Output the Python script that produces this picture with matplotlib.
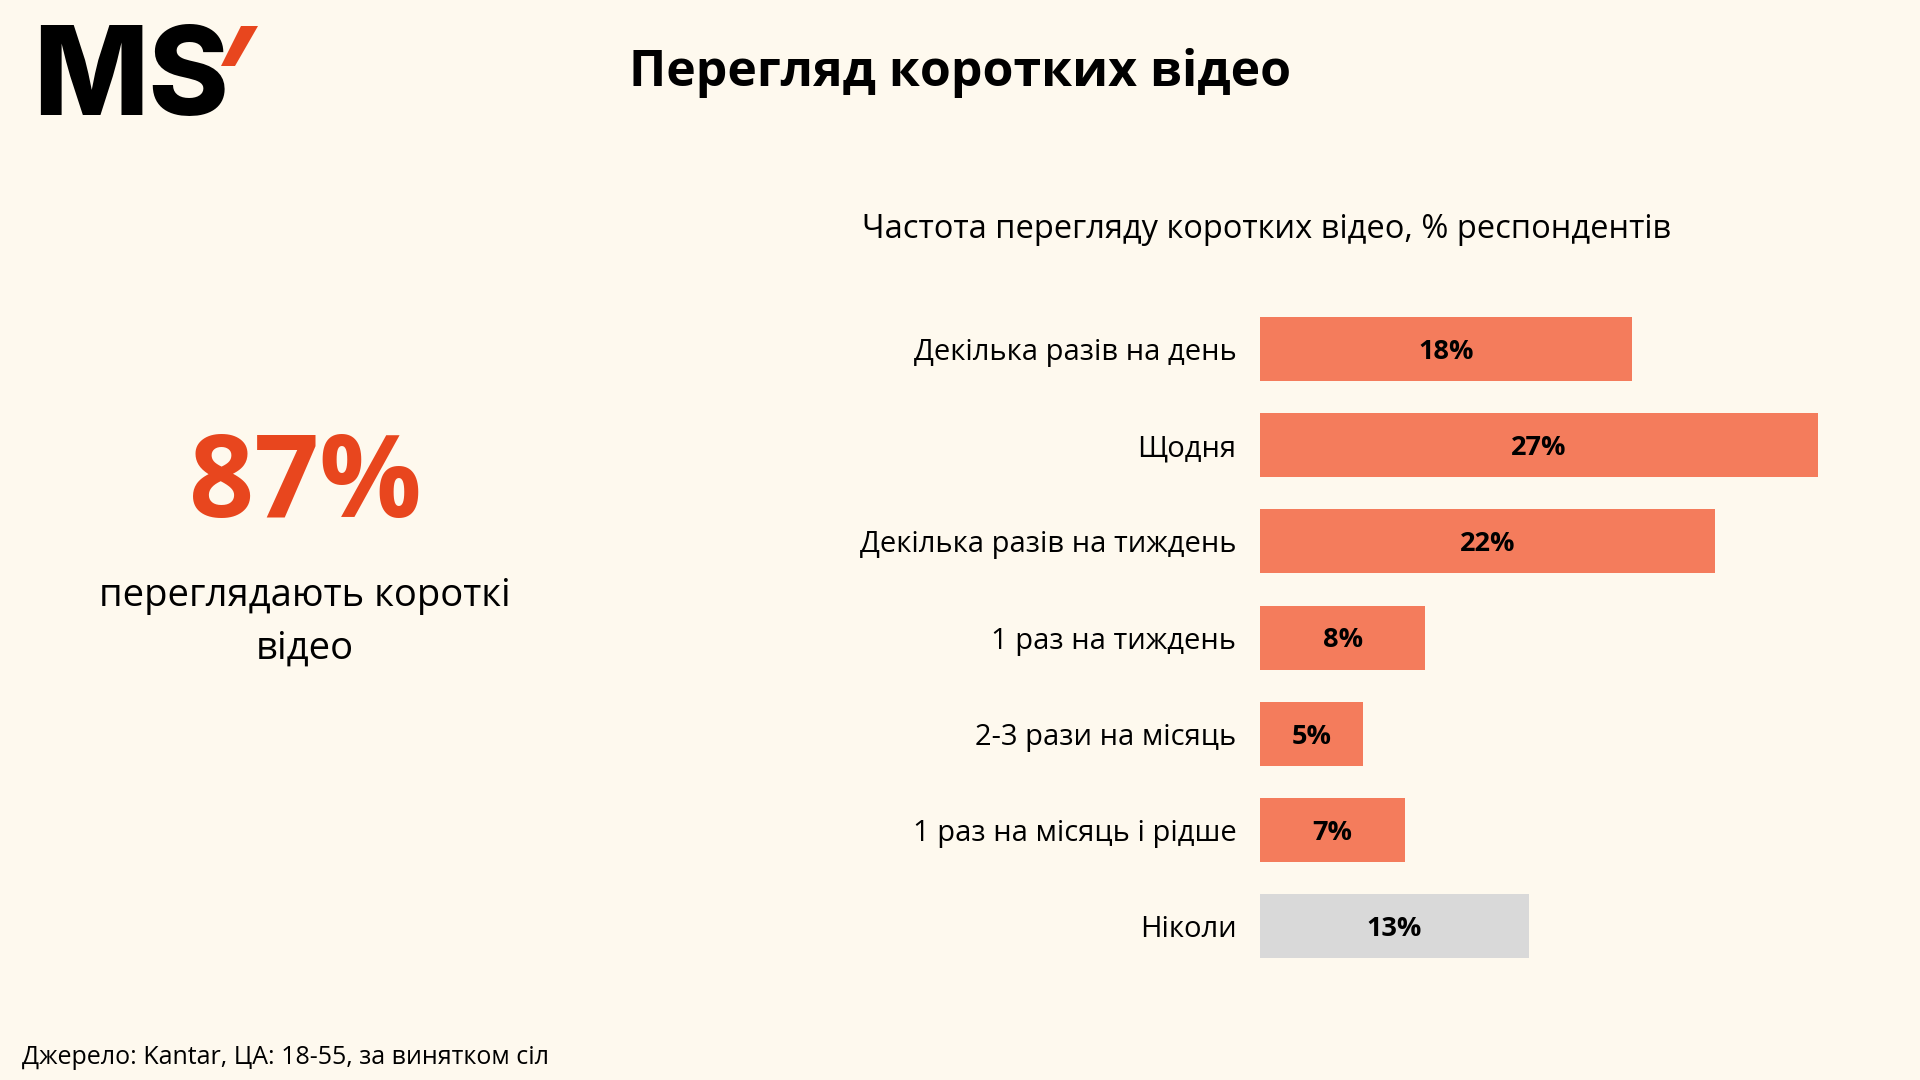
import matplotlib
matplotlib.use("Agg")
import matplotlib.pyplot as plt
from matplotlib.patches import Polygon

categories = ["Декілька разів на день", "Щодня", "Декілька разів на тиждень",
              "1 раз на тиждень", "2-3 рази на місяць", "1 раз на місяць і рідше", "Ніколи"]
values = [18, 27, 22, 8, 5, 7, 13]
colors = ["#F47C5C"] * 6 + ["#D9D9D9"]

BG = "#FEF9EE"
FONT = ["Open Sans", "DejaVu Sans"]
W, H = 1920, 1080
fig = plt.figure(figsize=(19.2, 10.8), dpi=100, facecolor=BG)

ov = fig.add_axes([0, 0, 1, 1]); ov.set_xlim(0, W); ov.set_ylim(H, 0); ov.axis("off")
ov.text(33, 82, "MS", fontsize=88, fontweight="heavy", family=["Inter", "DejaVu Sans"], va="center", ha="left", color="black")
ov.add_patch(Polygon([(241, 26), (258, 26), (235, 66), (221, 66)], closed=True, color="#E8461E", lw=0))
ov.text(960, 73, "Перегляд коротких відео", fontsize=36, fontweight="bold", family=FONT, ha="center", va="center")
ov.text(1267, 229, "Частота перегляду коротких відео, % респондентів", fontsize=23.5, family=FONT, ha="center", va="center")
ov.text(305, 487, "87%", fontsize=82, fontweight="bold", family=FONT, ha="center", va="center", color="#E8461E")
ov.text(305, 622, "переглядають короткі\nвідео", fontsize=27.5, family=FONT, ha="center", va="center", linespacing=1.5)
ov.text(22, 1057, "Джерело: Kantar, ЦА: 18-55, за винятком сіл", fontsize=18, family=FONT, ha="left", va="center")

x0, ppp = 1260, 20.67
xmax = 30
top, step = 349, 96.2
n = len(values)
y_top = top - step / 2
y_bot = top + step * (n - 1) + step / 2
ax = fig.add_axes([x0 / W, 1 - y_bot / H, xmax * ppp / W, (y_bot - y_top) / H])
ax.set_facecolor("none")
ys = list(range(n))
ax.barh(ys, values, height=64 / step, color=colors)
ax.set_xlim(0, xmax); ax.set_ylim(n - 0.5, -0.5)
ax.set_yticks(ys); ax.set_yticklabels(categories, fontsize=21, family=FONT)
ax.tick_params(axis="y", length=0, pad=17)
ax.set_xticks([])
for s in ax.spines.values():
    s.set_visible(False)
for y, v in zip(ys, values):
    ax.text(v / 2, y + 0.03, f"{v}%", ha="center", va="center", fontsize=19.5, fontweight="bold", family=FONT)

fig.savefig("out.png", dpi=100, facecolor=BG)
